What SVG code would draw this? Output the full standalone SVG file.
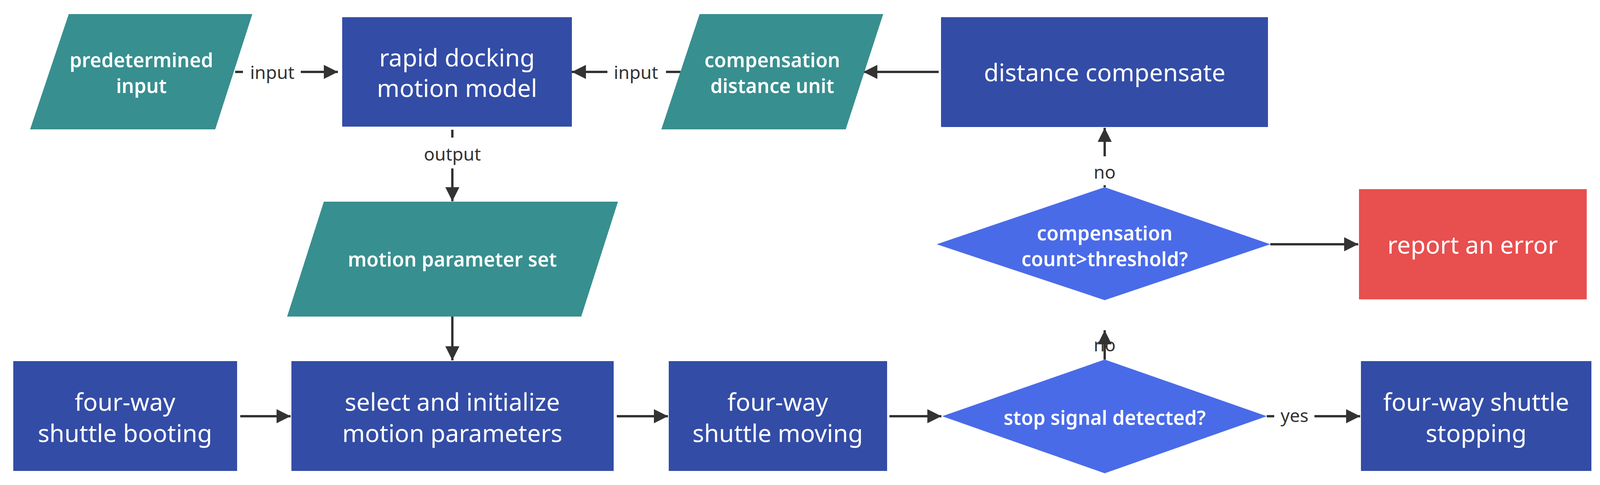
<svg xmlns="http://www.w3.org/2000/svg" width="4103" height="1241" viewBox="0 0 4103 1241">
<style>
.box{fill:#334CA6}
.io{fill:#388F8F}
.dia{fill:#4A6BE8}
.err{fill:#E84F4F}
.t{font-family:"Noto Sans","Open Sans",sans-serif;fill:#fff;text-anchor:middle;dominant-baseline:central}
.big{font-size:62px}
.med{font-size:50px;font-weight:600}
.lbl{font-family:"Noto Sans","Open Sans",sans-serif;font-size:46px;fill:#333;text-anchor:middle;dominant-baseline:central}
.c{stroke:#333;stroke-width:6;fill:none;marker-end:url(#ah)}
.cn{stroke:#333;stroke-width:6;fill:none}
</style>
<defs>
<marker id="ah" viewBox="0 0 10 10" refX="10" refY="5" markerWidth="6" markerHeight="6" markerUnits="strokeWidth" orient="auto"><path d="M0,0 L10,5 L0,10 z" fill="#333"/></marker>
</defs>
<rect width="4103" height="1241" fill="#fff"/>
<g id="connectors">
<line class="cn" x1="602" y1="184" x2="622" y2="184"/><line class="c" x1="770" y1="184" x2="865" y2="184"/>
<text class="lbl" x="697" y="184">input</text>
<line class="cn" x1="1742" y1="184" x2="1705" y2="184"/><line class="c" x1="1555" y1="184" x2="1464" y2="184"/>
<text class="lbl" x="1628" y="184">input</text>
<line class="c" x1="2403" y1="184" x2="2210" y2="184"/>
<line class="cn" x1="1158" y1="332" x2="1158" y2="352"/><line class="c" x1="1158" y1="431" x2="1158" y2="515"/>
<text class="lbl" x="1158" y="393">output</text>
<line class="c" x1="1158" y1="810" x2="1158" y2="922"/>
<line class="c" x1="615" y1="1065" x2="744" y2="1065"/>
<line class="c" x1="1579" y1="1065" x2="1710" y2="1065"/>
<line class="c" x1="2277" y1="1065" x2="2410" y2="1065"/>
<line class="cn" x1="3243" y1="1065" x2="3262" y2="1065"/><line class="c" x1="3365" y1="1065" x2="3482" y2="1065"/>
<text class="lbl" x="3314" y="1062">yes</text>
<line class="c" x1="2828" y1="920" x2="2828" y2="845"/><line class="cn" x1="2828" y1="920" x2="2828" y2="914"/>
<text class="lbl" x="2828" y="881">no</text>
<line class="c" x1="2828" y1="400" x2="2828" y2="327"/><line class="cn" x1="2828" y1="479" x2="2828" y2="474"/>
<text class="lbl" x="2828" y="439">no</text>
<line class="c" x1="3252" y1="625" x2="3477" y2="625"/>
</g>
<g id="predetermined"><polygon class="io" points="176,36 646,36 551,331 77,331"/><text class="t med" x="362" y="153">predetermined</text><text class="t med" x="362" y="219">input</text></g>
<g id="rapid"><rect class="box" x="876" y="44" width="588" height="280"/><text class="t big" x="1170" y="146">rapid docking</text><text class="t big" x="1170" y="224">motion model</text></g>
<g id="compunit"><polygon class="io" points="1791,36 2261,36 2165,331 1693,331"/><text class="t med" x="1977" y="153">compensation</text><text class="t med" x="1977" y="219">distance unit</text></g>
<g id="distcomp"><rect class="box" x="2409" y="44" width="837" height="281"/><text class="t big" x="2828" y="184">distance compensate</text></g>
<g id="motionset"><polygon class="io" points="829,516 1582,516 1488,810 735,810"/><text class="t med" x="1158" y="663">motion parameter set</text></g>
<g id="compdia"><polygon class="dia" points="2828,479 3252,625 2828,768 2398,625"/><text class="t med" x="2828" y="596">compensation</text><text class="t med" x="2828" y="662">count&gt;threshold?</text></g>
<g id="report"><rect class="err" x="3479" y="484" width="583" height="282"/><text class="t big" x="3770" y="625">report an error</text></g>
<g id="booting"><rect class="box" x="34" y="924" width="573" height="281"/><text class="t big" x="320" y="1027">four-way</text><text class="t big" x="320" y="1107">shuttle booting</text></g>
<g id="select"><rect class="box" x="746" y="924" width="825" height="281"/><text class="t big" x="1158" y="1027">select and initialize</text><text class="t big" x="1158" y="1107">motion parameters</text></g>
<g id="moving"><rect class="box" x="1712" y="924" width="559" height="281"/><text class="t big" x="1991" y="1027">four-way</text><text class="t big" x="1991" y="1107">shuttle moving</text></g>
<g id="stopdia"><polygon class="dia" points="2828,920 3243,1065 2828,1211 2412,1065"/><text class="t med" x="2828" y="1068">stop signal detected?</text></g>
<g id="stopping"><rect class="box" x="3484" y="924" width="590" height="281"/><text class="t big" x="3779" y="1027">four-way shuttle</text><text class="t big" x="3779" y="1107">stopping</text></g>
</svg>
